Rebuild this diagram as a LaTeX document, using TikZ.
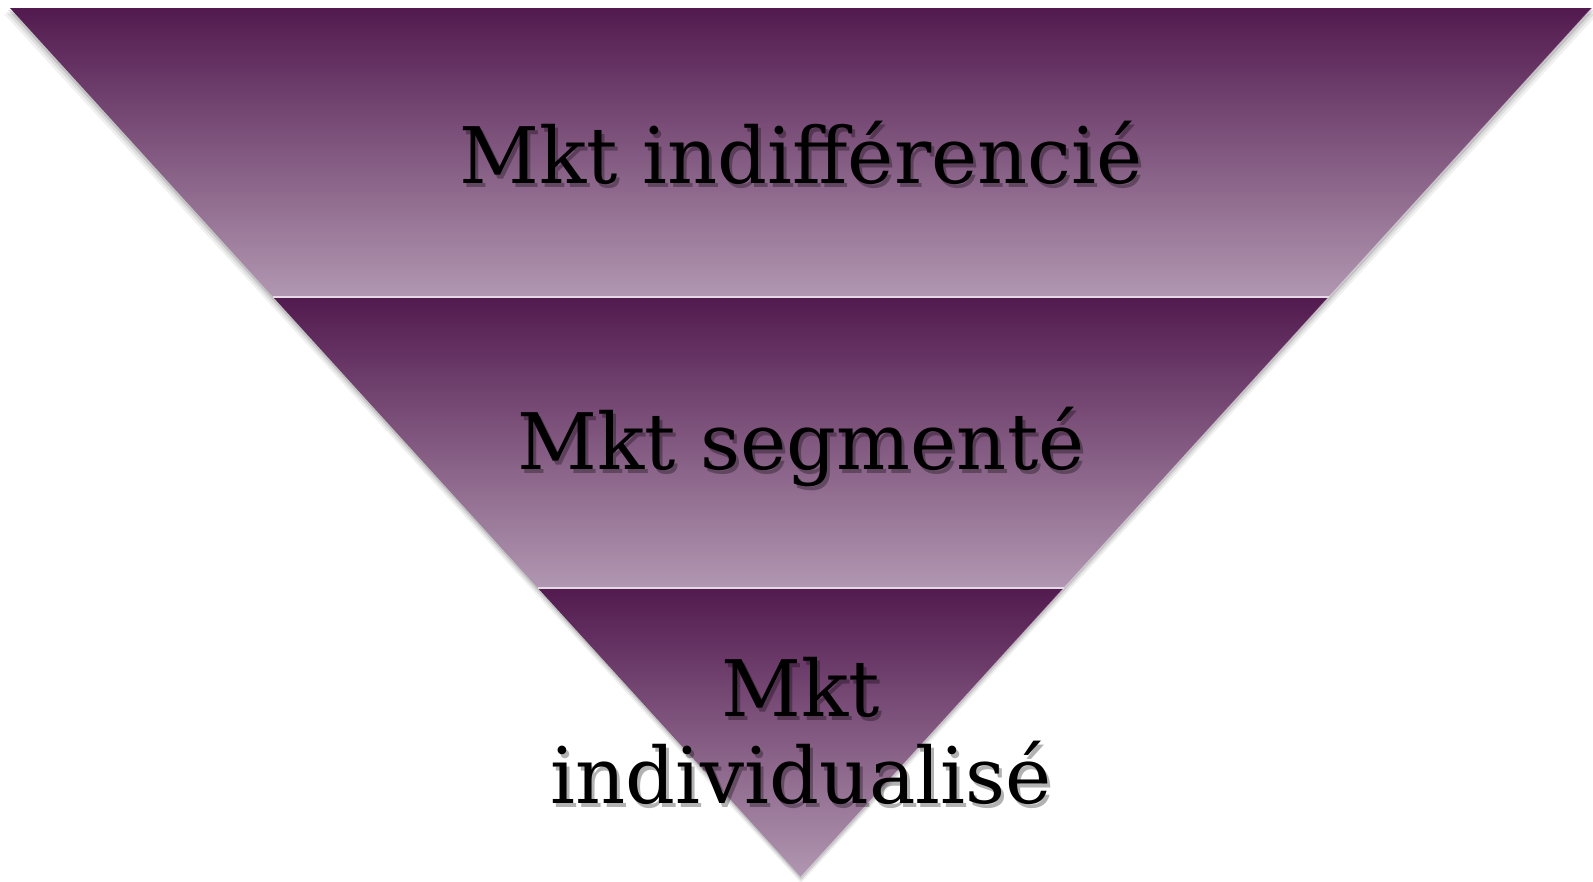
\documentclass[tikz,border=0pt]{standalone}
\usepackage{fontspec}
\setmainfont{DejaVu Serif}
\definecolor{bandtop}{HTML}{521A4F}
\definecolor{bandbot}{HTML}{B197B1}
\definecolor{bandline}{HTML}{E6DAE6}
\begin{document}
\begin{tikzpicture}[x=1pt,y=-1pt,
  band/.style={top color=bandtop,bottom color=bandbot,middle color=bandtop!50!bandbot},
  label/.style={font=\fontsize{78}{86}\selectfont,text=black,inner sep=0pt,anchor=base},
  shadowtext/.style={label,text=black,opacity=0.3}]
\useasboundingbox (0,0) rectangle (1593,881);
% coordinates
\coordinate (tl) at (10,8);
\coordinate (tr) at (1592,8);
\coordinate (ap) at (801,877);
\coordinate (l1) at (273.1,297);
\coordinate (r1) at (1328.9,297);
\coordinate (l2) at (537.9,588);
\coordinate (r2) at (1064.1,588);
% soft shadow
\foreach \o/\a in {6/0.06,4/0.08,2/0.12}{
  \fill[black,opacity=\a] ([xshift=-\o pt,yshift=-\o pt]tl) -- ([xshift=\o pt,yshift=-\o pt]tr) -- ([yshift=-\o pt]ap) -- cycle;
}
% bands
\shade[band] (tl) -- (tr) -- (r1) -- (l1) -- cycle;
\shade[band] (l1) -- (r1) -- (r2) -- (l2) -- cycle;
\shade[band] (l2) -- (r2) -- (ap) -- cycle;
% highlight lines at band bottoms
\draw[bandline,line width=2pt] (l1) -- (r1);
\draw[bandline,line width=2pt] (l2) -- (r2);
\draw[bandline,line width=1pt,opacity=0.6] (tr) -- (ap);
% texts with shadows
\node[shadowtext] (s1) at (804,187) {Mkt indifférencié};
\node[label] (t1) at (801,183) {Mkt indifférencié};
\node[shadowtext] (s2) at (804,473) {Mkt segmenté};
\node[label] (t2) at (801,469) {Mkt segmenté};
\node[shadowtext] (s3) at (804,720) {Mkt};
\node[label] (t3) at (801,716) {Mkt};
\node[shadowtext] (s4) at (804,807) {individualisé};
\node[label] (t4) at (801,803) {individualisé};
\end{tikzpicture}
\end{document}
